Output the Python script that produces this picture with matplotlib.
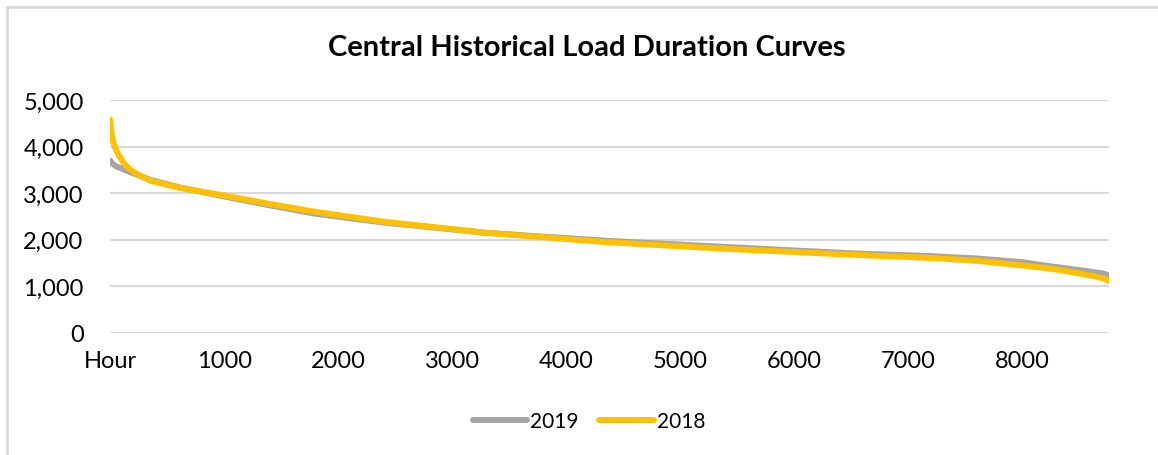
import matplotlib
matplotlib.use("Agg")
import matplotlib.pyplot as plt
from matplotlib.lines import Line2D

plt.rcParams['font.family'] = ['Lato', 'DejaVu Sans']

# Load duration curves (MW by sorted hour)
hours_2019 = [1, 20, 50, 100, 200, 350, 600, 1000, 1400, 1800, 2400, 3300, 4350, 5450, 6500, 7200, 7600, 8000, 8250, 8500, 8700, 8760]
load_2019 = [3700, 3640, 3580, 3530, 3430, 3290, 3130, 2930, 2740, 2560, 2370, 2150, 1980, 1840, 1710, 1650, 1600, 1520, 1430, 1350, 1280, 1240]

hours_2018 = [1, 5, 15, 30, 50, 80, 120, 170, 230, 350, 600, 1000, 1400, 1800, 2400, 3300, 4350, 5450, 6500, 7200, 7600, 8000, 8250, 8500, 8700, 8760]
load_2018 = [4580, 4450, 4250, 4080, 3950, 3800, 3650, 3520, 3420, 3270, 3120, 2950, 2770, 2600, 2390, 2150, 1950, 1800, 1680, 1610, 1550, 1450, 1380, 1280, 1180, 1120]

xtick_pos = [0, 1000, 2000, 3000, 4000, 5000, 6000, 7000, 8000]
xtick_labels = ["Hour", "1000", "2000", "3000", "4000", "5000", "6000", "7000", "8000"]
ytick_pos = [0, 1000, 2000, 3000, 4000, 5000]

fig = plt.figure(figsize=(11.58, 4.56), dpi=100)
ax = fig.add_axes([110 / 1158, 1 - 334 / 456, 999 / 1158, 233 / 456])

ax.plot(hours_2019, load_2019, color="#A5A5A5", lw=4.3, solid_capstyle="round", label="2019")
ax.plot(hours_2018, load_2018, color="#FFC000", lw=4.3, solid_capstyle="round", label="2018")

ax.set_xlim(0, 8760)
ax.set_ylim(0, 5000)
ax.set_xticks(xtick_pos)
ax.set_xticklabels(xtick_labels)
ax.set_yticks(ytick_pos)
ax.set_yticklabels([f"{v:,}" for v in ytick_pos])
ax.tick_params(axis="both", length=0, labelsize=17, colors="#000000")
ax.tick_params(axis="y", pad=19)
ax.tick_params(axis="x", pad=12)
ax.grid(axis="y", color="#D9D9D9", lw=1.5)
ax.set_axisbelow(True)
for s in ax.spines.values():
    s.set_visible(False)

fig.text(587 / 1158, 1 - 48 / 456, "Central Historical Load Duration Curves",
         ha="center", va="center", fontsize=21, fontweight="bold")

fig.legend(loc="center", bbox_to_anchor=(589 / 1158, 1 - 422 / 456), ncol=2,
           frameon=False, fontsize=15, handlelength=2.6, handletextpad=0.15,
           columnspacing=1.0)

# chart area border (only left and top edges visible in the crop)
fig.add_artist(Line2D([7 / 1158, 7 / 1158], [0, 1 - 8 / 456], color="#D9D9D9", lw=2, transform=fig.transFigure))
fig.add_artist(Line2D([7 / 1158, 1], [1 - 8 / 456, 1 - 8 / 456], color="#D9D9D9", lw=2, transform=fig.transFigure))

fig.savefig("out.png", dpi=100)
